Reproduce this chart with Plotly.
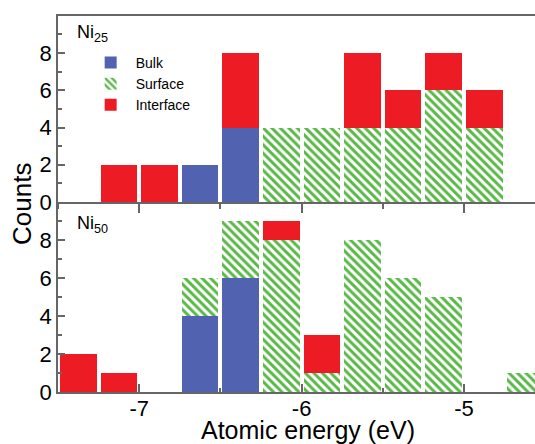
import plotly.graph_objects as go
from plotly.subplots import make_subplots

# Bin centres (eV), bin width 0.25 eV
bin_centers = [-7.375, -7.125, -6.875, -6.625, -6.375, -6.125,
               -5.875, -5.625, -5.375, -5.125, -4.875, -4.625]

# Ni25 (top panel)
ni25_bulk      = [0, 0, 0, 2, 4, 0, 0, 0, 0, 0, 0, 0]
ni25_surface   = [0, 0, 0, 0, 0, 4, 4, 4, 4, 6, 4, 0]
ni25_interface = [0, 2, 2, 0, 4, 0, 0, 4, 2, 2, 2, 0]

# Ni50 (bottom panel)
ni50_bulk      = [0, 0, 0, 4, 6, 0, 0, 0, 0, 0, 0, 0]
ni50_surface   = [0, 0, 0, 2, 3, 8, 1, 8, 6, 5, 0, 1]
ni50_interface = [2, 1, 0, 0, 0, 1, 2, 0, 0, 0, 0, 0]

y_ticks = [0, 2, 4, 6, 8]
x_ticks = [-7, -6, -5]
x_tick_labels = ["-7", "-6", "-5"]

BLUE = "#5163b0"
GREEN = "#5ab848"
RED = "#ed1c24"
AXC = "#666666"
FONT = "Liberation Sans, Arial, sans-serif"
BW = 0.226

fig = make_subplots(rows=2, cols=1, shared_xaxes=True, vertical_spacing=0)

def add_panel(row, bulk, surf, inter, show):
    fig.add_trace(go.Bar(x=bin_centers, y=bulk, width=BW, name="Bulk",
                         marker=dict(color=BLUE, line=dict(width=0)),
                         showlegend=show, legendgroup="b"), row=row, col=1)
    fig.add_trace(go.Bar(x=bin_centers, y=surf, width=BW, name="Surface",
                         marker=dict(color="white", line=dict(width=0),
                                     pattern=dict(shape="\\", fgcolor=GREEN,
                                                  fgopacity=1,
                                                  bgcolor="white", size=6,
                                                  solidity=0.5)),
                         showlegend=show, legendgroup="s"), row=row, col=1)
    fig.add_trace(go.Bar(x=bin_centers, y=inter, width=BW, name="Interface",
                         marker=dict(color=RED, line=dict(width=0)),
                         showlegend=show, legendgroup="i"), row=row, col=1)

add_panel(1, ni25_bulk, ni25_surface, ni25_interface, True)
add_panel(2, ni50_bulk, ni50_surface, ni50_interface, False)

split = 190 / 376
fig.update_layout(
    width=535, height=444,
    margin=dict(l=58, r=0, t=16, b=52),
    barmode="stack",
    plot_bgcolor="white", paper_bgcolor="white",
    font=dict(family=FONT, color="black"),
    legend=dict(x=0.058, y=0.918, xanchor="left", yanchor="top",
                font=dict(size=14, family=FONT), bgcolor="rgba(0,0,0,0)",
                tracegroupgap=0, itemwidth=40),
)

xr = [-7.5, -4.563]
fig.update_xaxes(row=1, col=1, range=xr, domain=[0, 1],
                 showline=True, linecolor=AXC, linewidth=1.5, mirror=True,
                 tickvals=x_ticks, showticklabels=False,
                 ticks="outside", ticklen=9, tickcolor=AXC, tickwidth=1.5,
                 minor=dict(tickvals=[-7.5, -6.5, -5.5, -4.5], ticks="outside",
                            ticklen=5, tickcolor=AXC, tickwidth=1.5),
                 showgrid=False, zeroline=False)
fig.update_xaxes(row=2, col=1, range=xr, domain=[0, 1],
                 showline=True, linecolor=AXC, linewidth=1.5,
                 tickvals=x_ticks, ticktext=x_tick_labels, showticklabels=True,
                 ticks="inside", ticklen=8, tickcolor=AXC, tickwidth=1.5,
                 minor=dict(tickvals=[-7.5, -6.5, -5.5, -4.5], ticks="inside",
                            ticklen=4, tickcolor=AXC, tickwidth=1.5),
                 tickfont=dict(size=22, family=FONT), ticklabelstandoff=-4,
                 showgrid=False, zeroline=False)

for row, dom in ((1, [split, 1]), (2, [0, split])):
    fig.update_yaxes(row=row, col=1, domain=dom, range=[0, 9.99],
                     showline=True, linecolor=AXC, linewidth=1.5,
                     tickvals=y_ticks, ticks="inside", ticklen=7,
                     tickcolor=AXC, tickwidth=1.5,
                     minor=dict(tickvals=[1, 3, 5, 7, 9], ticks="inside",
                                ticklen=4, tickcolor=AXC, tickwidth=1.5),
                     tickfont=dict(size=22, family=FONT),
                     showgrid=False, zeroline=False)

fig.add_annotation(xref="paper", yref="paper", x=0.035, y=(392 - 33) / 376,
                   text="Ni<sub>25</sub>", showarrow=False, xanchor="left",
                   yanchor="middle", font=dict(size=18, family=FONT))
fig.add_annotation(xref="paper", yref="paper", x=0.035, y=(392 - 224) / 376,
                   text="Ni<sub>50</sub>", showarrow=False, xanchor="left",
                   yanchor="middle", font=dict(size=18, family=FONT))
fig.add_annotation(xref="paper", yref="paper", x=-36 / 477, y=0.5,
                   text="Counts", showarrow=False, textangle=-90,
                   xanchor="center", yanchor="middle",
                   font=dict(size=26, family=FONT))
fig.add_annotation(xref="paper", yref="paper", x=(308 - 58) / 477,
                   y=(392 - 430) / 376,
                   text="Atomic energy (eV)", showarrow=False,
                   xanchor="center", yanchor="middle",
                   font=dict(size=25, family=FONT))

fig.write_html("out.html",
               config={"displayModeBar": False},
               post_script="document.body.style.margin='0';"
                           "document.documentElement.style.overflow='hidden';")
